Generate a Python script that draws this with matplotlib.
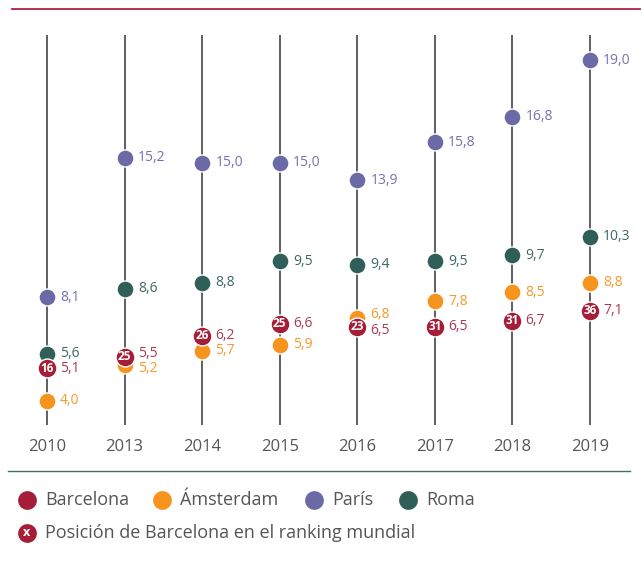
import matplotlib
matplotlib.use("Agg")
import numpy as np
import matplotlib.pyplot as plt
from matplotlib.lines import Line2D

plt.rcParams['font.family'] = ['Open Sans', 'DejaVu Sans']

# data
years = ['2010', '2013', '2014', '2015', '2016', '2017', '2018', '2019']
barcelona = [5.1, 5.5, 6.2, 6.6, 6.5, 6.5, 6.7, 7.1]
amsterdam = [4.0, 5.2, 5.7, 5.9, 6.8, 7.8, 8.5, 8.8]
paris = [8.1, 15.2, 15.0, 15.0, 13.9, 15.8, 16.8, 19.0]
roma = [5.6, 8.6, 8.8, 9.5, 9.4, 9.5, 9.7, 10.3]
ranking = [16, 25, 26, 25, 23, 31, 31, 36]

names = ['Barcelona', 'Ámsterdam', 'París', 'Roma']
colors = {'Barcelona': '#a51d37', 'Ámsterdam': '#f7941d',
          'París': '#6c6aa6', 'Roma': '#2f5f58'}
label_colors = {'Barcelona': '#a83a50', 'Ámsterdam': '#f39a2c',
                'París': '#7472ac', 'Roma': '#3d6962'}

# the original infographic is not drawn to a linear scale; piecewise scale
scale_v = [0, 4, 7, 8.5, 10.3, 15, 19, 25]
scale_u = [40, 160, 249, 269, 324, 398, 501, 657]


def fwd(v):
    return np.interp(v, scale_v, scale_u)


def inv(u):
    return np.interp(u, scale_u, scale_v)


W, H = 643, 561
fig = plt.figure(figsize=(W / 100, H / 100), dpi=100)

# main axes: spans the vertical guide lines
top_px, bot_px = 35, 425
ax = fig.add_axes([0, 1 - bot_px / H, 1, (bot_px - top_px) / H])
px_idx = (590 - 47) / 7
ax.set_xlim(-47 / px_idx, 7 + (W - 590) / px_idx)
ax.set_yscale('function', functions=(fwd, inv))
ax.set_ylim(inv(H - bot_px), inv(H - top_px))

x = list(range(len(years)))
for xi in x:
    ax.axvline(xi, color='#444444', lw=1.2, zorder=1)

# nudge labels apart where Barcelona and Amsterdam dots touch
close = [abs(b - a) < 0.5 for b, a in zip(barcelona, amsterdam)]

series = [('Roma', roma), ('París', paris), ('Ámsterdam', amsterdam), ('Barcelona', barcelona)]
for name, vals in series:
    c = colors[name]
    size = 185 if name == 'Barcelona' else 150
    ax.scatter(x, vals, s=size, color=c, edgecolor='white', linewidth=1.0, zorder=3)
    for xi, v in zip(x, vals):
        dy = 0
        if close[xi]:
            b_up = barcelona[xi] >= amsterdam[xi]
            if name == 'Barcelona':
                dy = 2.5 if b_up else -2.5
            elif name == 'Ámsterdam':
                dy = -2.5 if b_up else 2.5
        ax.annotate(f'{v:.1f}'.replace('.', ','), (xi, v), xytext=(9.5, dy),
                    textcoords='offset points', va='center', ha='left',
                    fontsize=10, color=label_colors[name], zorder=4)

for xi, v, r in zip(x, barcelona, ranking):
    ax.text(xi, v, str(r), ha='center', va='center', color='white',
            fontsize=8.5, fontweight='bold', zorder=5)

ax.set_xticks(x)
ax.set_xticklabels(years, fontsize=12, color='#555555')
ax.tick_params(axis='x', length=0, pad=10)
ax.set_yticks([])
ax.minorticks_off()
for s in ax.spines.values():
    s.set_visible(False)
ax.patch.set_alpha(0)

# decorations on an overlay in pixel coordinates
ov = fig.add_axes([0, 0, 1, 1], zorder=-1)
ov.set_xlim(0, W)
ov.set_ylim(H, 0)
ov.axis('off')
ov.add_line(Line2D([12, 640], [9, 9], color='#b0243f', lw=1.3))
ov.add_line(Line2D([8, 630], [471, 471], color='#4b6a68', lw=1.0))

# legend
leg = fig.add_axes([0, 0, 1, 1])
leg.set_xlim(0, W)
leg.set_ylim(H, 0)
leg.axis('off')
leg_x = [27, 162, 314, 408]
for name, lx in zip(names, leg_x):
    leg.scatter([lx], [500], s=210, color=colors[name], edgecolor='white', lw=1)
    leg.text(lx + 18, 500, name, va='center', ha='left', fontsize=13, color='#555555')
leg.scatter([27], [533], s=210, color=colors['Barcelona'], edgecolor='white', lw=1)
leg.text(27, 533, 'x', ha='center', va='center', color='white', fontsize=9, fontweight='bold')
leg.text(45, 533, 'Posición de Barcelona en el ranking mundial', va='center', ha='left',
         fontsize=13, color='#555555')

fig.savefig('out.png', dpi=100)
